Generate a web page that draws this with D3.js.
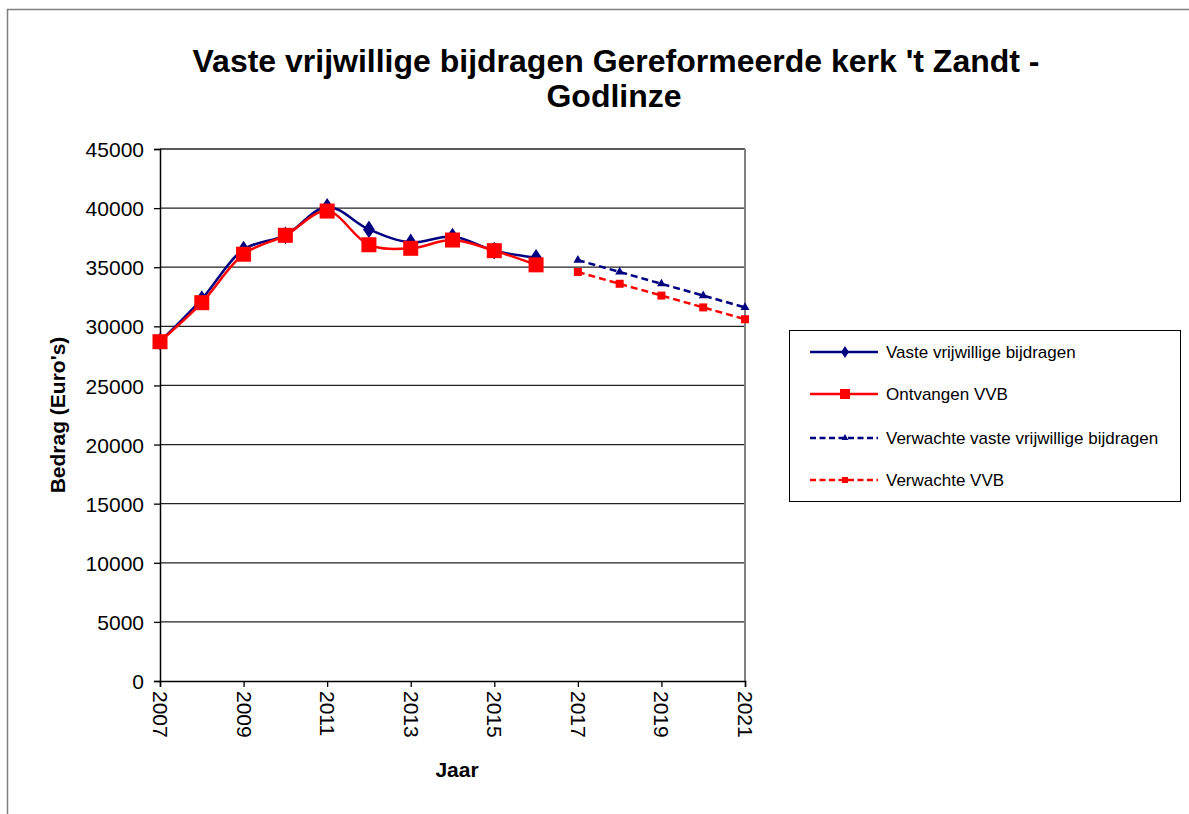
<!DOCTYPE html>
<html><head><meta charset="utf-8">
<script src="https://cdn.jsdelivr.net/npm/d3@7"></script>
<style>body{margin:0;background:#fff}svg{display:block;font-family:"Liberation Sans",Arial,sans-serif}</style>
</head><body><svg id="c" width="1189" height="814"></svg>
<script>
const years = [2007,2008,2009,2010,2011,2012,2013,2014,2015,2016];
const vvb = [28700,32300,36500,37700,40100,38200,37100,37600,36400,35800];
const ontvangen = [28700,32000,36100,37700,39750,36900,36600,37300,36400,35200];
const forecastYears = [2017,2018,2019,2020,2021];
const verwachtVvb = [35600,34600,33600,32600,31600];
const verwachtOntv = [34600,33600,32600,31600,30600];
const yTicks = [0,5000,10000,15000,20000,25000,30000,35000,40000,45000];
const xTicks = [2007,2009,2011,2013,2015,2017,2019,2021];
const seriesNames = ["Vaste vrijwillige bijdragen","Ontvangen VVB","Verwachte vaste vrijwillige bijdragen","Verwachte VVB"];
const titleLines = ["Vaste vrijwillige bijdragen Gereformeerde kerk 't Zandt -","Godlinze"];

const NAVY="#000080", RED="#ff0000";
const svg=d3.select("#c");
// outer frame
svg.append("rect").attr("x",7.5).attr("y",9.5).attr("width",1200).attr("height",900)
  .attr("fill","none").attr("stroke","#7f7f7f").attr("stroke-width",1.5);

const x=d3.scaleLinear().domain([2007,2021]).range([160,745]);
const y=d3.scaleLinear().domain([0,45000]).range([681,149]);

// gridlines
svg.append("g").selectAll("line").data(yTicks.filter(d=>d>0)).join("line")
  .attr("x1",160).attr("x2",745).attr("y1",d=>y(d)).attr("y2",d=>y(d))
  .attr("stroke","#222").attr("stroke-width",1.3);
// right border
svg.append("line").attr("x1",745).attr("x2",745).attr("y1",149).attr("y2",681).attr("stroke","#808080").attr("stroke-width",2);

// y axis
const ya=svg.append("g").attr("transform","translate(160,0)").call(d3.axisLeft(y).tickValues(yTicks).tickSize(6).tickPadding(10).tickFormat(d3.format("d")));
ya.select(".domain").attr("stroke","#000").attr("stroke-width",1.5);
ya.selectAll(".tick line").attr("stroke","#000").attr("stroke-width",1.3);
ya.selectAll("text").attr("font-size",21).attr("font-family","Liberation Sans, Arial, sans-serif").attr("fill","#000").attr("dy","0.36em");

// x axis
const xa=svg.append("g").attr("transform","translate(0,681)").call(d3.axisBottom(x).tickValues(xTicks).tickSize(6).tickFormat(d3.format("d")));
xa.select(".domain").attr("stroke","#000").attr("stroke-width",1.5);
xa.selectAll(".tick line").attr("stroke","#000").attr("stroke-width",1.3);
xa.selectAll("text").attr("font-size",21).attr("font-family","Liberation Sans, Arial, sans-serif").attr("fill","#000")
  .attr("transform","rotate(90)").attr("text-anchor","start").attr("x",10).attr("y",0).attr("dy","0.36em");

// titles
svg.append("text").attr("x",616).attr("y",72).attr("text-anchor","middle").attr("font-weight","bold").attr("font-size",32).text(titleLines[0]);
svg.append("text").attr("x",614).attr("y",107).attr("text-anchor","middle").attr("font-weight","bold").attr("font-size",32).text(titleLines[1]);
svg.append("text").attr("x",457).attr("y",777).attr("text-anchor","middle").attr("font-weight","bold").attr("font-size",21).text("Jaar");
svg.append("text").attr("transform","translate(65,415) rotate(-90)").attr("text-anchor","middle").attr("font-weight","bold").attr("font-size",21).text("Bedrag (Euro's)");

// lines
const smooth=d3.line().x(d=>x(d[0])).y(d=>y(d[1])).curve(d3.curveCatmullRom.alpha(0.5));
const straight=d3.line().x(d=>x(d[0])).y(d=>y(d[1]));
const zip=(a,b)=>a.map((v,i)=>[v,b[i]]);
const dVvb=zip(years,vvb), dOnt=zip(years,ontvangen), dVV=zip(forecastYears,verwachtVvb), dVO=zip(forecastYears,verwachtOntv);

svg.append("path").attr("d",smooth(dVvb)).attr("fill","none").attr("stroke",NAVY).attr("stroke-width",2.5);
svg.append("path").attr("d",straight(dVV)).attr("fill","none").attr("stroke",NAVY).attr("stroke-width",2.5).attr("stroke-dasharray","7,4");
svg.append("path").attr("d",straight(dVO)).attr("fill","none").attr("stroke",RED).attr("stroke-width",2.5).attr("stroke-dasharray","7,4");

const diamond=d3.symbol().type(d3.symbolDiamond).size(90);
svg.append("g").selectAll("path").data(dVvb).join("path").attr("d",diamond)
  .attr("transform",d=>`translate(${x(d[0])},${y(d[1])}) scale(1.15,1)`).attr("fill",NAVY);
svg.append("path").attr("d",smooth(dOnt)).attr("fill","none").attr("stroke",RED).attr("stroke-width",2.5);
svg.append("g").selectAll("rect").data(dOnt).join("rect")
  .attr("x",d=>x(d[0])-7.5).attr("y",d=>y(d[1])-7.5).attr("width",15).attr("height",15).attr("fill",RED);
const tri=d3.symbol().type(d3.symbolTriangle).size(34);
svg.append("g").selectAll("path").data(dVV).join("path").attr("d",tri)
  .attr("transform",d=>`translate(${x(d[0])},${y(d[1])})`).attr("fill",NAVY);
svg.append("g").selectAll("rect").data(dVO).join("rect")
  .attr("x",d=>x(d[0])-4).attr("y",d=>y(d[1])-4).attr("width",8).attr("height",8).attr("fill",RED);

// legend
const lg=svg.append("g");
lg.append("rect").attr("x",789.5).attr("y",330.5).attr("width",391).attr("height",171).attr("fill","#fff").attr("stroke","#000").attr("stroke-width",1);
const ly=[352,394,438,480];
const styles=[{c:NAVY,dash:null,m:"diamond"},{c:RED,dash:null,m:"square"},{c:NAVY,dash:"6,3.5",m:"tri"},{c:RED,dash:"6,3.5",m:"sq"}];
seriesNames.forEach((n,i)=>{
  const s=styles[i];
  const l=lg.append("line").attr("x1",810).attr("x2",878).attr("y1",ly[i]).attr("y2",ly[i]).attr("stroke",s.c).attr("stroke-width",2.5);
  if(s.dash) l.attr("stroke-dasharray",s.dash);
  if(s.m==="diamond") lg.append("path").attr("d",d3.symbol().type(d3.symbolDiamond).size(40)).attr("transform",`translate(845,${ly[i]}) scale(1.15,1)`).attr("fill",s.c);
  if(s.m==="square") lg.append("rect").attr("x",840).attr("y",ly[i]-5).attr("width",10).attr("height",10).attr("fill",s.c);
  if(s.m==="tri") lg.append("path").attr("d",d3.symbol().type(d3.symbolTriangle).size(20)).attr("transform",`translate(845,${ly[i]})`).attr("fill",s.c);
  if(s.m==="sq") lg.append("rect").attr("x",842).attr("y",ly[i]-3).attr("width",6).attr("height",6).attr("fill",s.c);
  lg.append("text").attr("x",886).attr("y",ly[i]).attr("dy","0.36em").attr("font-size",17).text(n);
});
</script></body></html>
